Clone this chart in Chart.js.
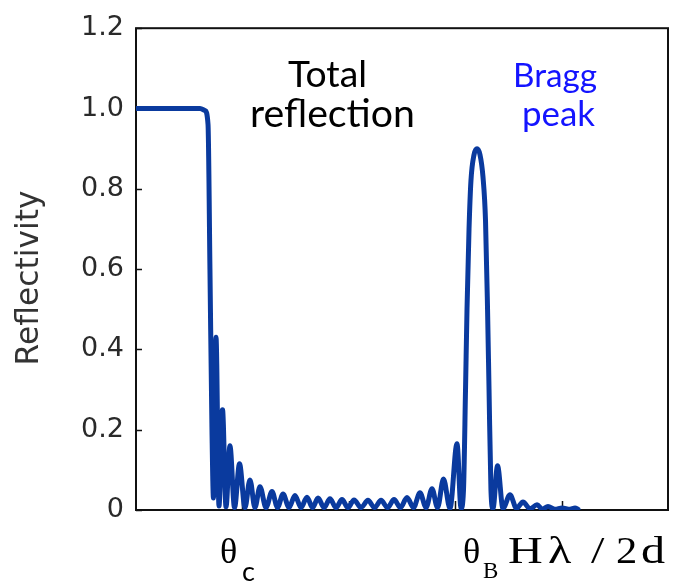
<!DOCTYPE html>
<html><head><meta charset="utf-8">
<script src="https://cdn.jsdelivr.net/npm/chart.js@4"></script>
<style>html,body{margin:0;padding:0;background:#fff}#wrap{width:679px;height:584px;position:relative}</style>
</head><body><div id="wrap"><canvas id="c"></canvas></div>
<script>
// Glancing angle (arbitrary units, tick every 1.0) and reflectivity
const angle = [
  0, 0.414, 0.602, 0.648, 0.677, 0.695, 0.714, 0.728, 0.752, 0.780, 0.813, 0.846, 0.883, 0.926, 0.973,
  1.024, 1.071, 1.118, 1.165, 1.222, 1.278, 1.330, 1.382, 1.438, 1.494, 1.551, 1.607, 1.659, 1.711,
  1.767, 1.823, 1.880, 1.936, 1.992, 2.049, 2.115, 2.180, 2.242, 2.303, 2.364, 2.425, 2.486, 2.547,
  2.608, 2.669, 2.726, 2.782, 2.834, 2.890, 2.951, 3.017, 3.055, 3.078, 3.097, 3.111, 3.130, 3.148,
  3.177, 3.205, 3.233, 3.261, 3.285, 3.304, 3.318, 3.336, 3.355, 3.398, 3.449, 3.515, 3.576, 3.637,
  3.703, 3.769, 3.820, 3.872, 3.938, 4.004, 4.079, 4.126, 4.154
];
const reflectivity = [
  1.0, 1.0, 1.0, 0.995, 0.96, 0.6, 0.2, 0.03, 0.43, 0.01, 0.25, 0.008, 0.16, 0.006, 0.115,
  0.006, 0.075, 0.006, 0.058, 0.006, 0.046, 0.006, 0.04, 0.006, 0.036, 0.006, 0.032, 0.006, 0.03,
  0.006, 0.028, 0.006, 0.026, 0.006, 0.025, 0.006, 0.024, 0.006, 0.024, 0.006, 0.026, 0.006, 0.031,
  0.006, 0.043, 0.006, 0.053, 0.006, 0.077, 0.004, 0.165, 0.004, 0.05, 0.3, 0.5, 0.7, 0.82,
  0.885, 0.9, 0.885, 0.83, 0.72, 0.5, 0.3, 0.05, 0.004, 0.11, 0.004, 0.038, 0.004, 0.02,
  0.003, 0.013, 0.002, 0.009, 0.002, 0.005, 0.002, 0.005, 0.002
];
const yTicks = [0, 0.2, 0.4, 0.6, 0.8, 1.0, 1.2];
const xTicks = [0, 1, 2, 3, 4, 5];
const yTitle = 'Reflectivity';
const noteTotal = ['Total', 'reflection'];
const noteBragg = ['Bragg', 'peak'];

const points = angle.map((a, i) => ({x: a, y: reflectivity[i]}));

function fitText(ctx, text, family, weight, target, x, y, color, align) {
  ctx.font = weight + ' 100px "' + family + '"';
  const w = ctx.measureText(text).width;
  const size = 100 * target / w;
  ctx.font = weight + ' ' + size.toFixed(2) + 'px "' + family + '"';
  ctx.fillStyle = color;
  ctx.textAlign = align || 'left';
  ctx.fillText(text, x, y);
}

function wideGlyph(ctx, text, x, y, sx) {
  ctx.save();
  ctx.translate(x, y);
  ctx.scale(sx, 1);
  ctx.fillText(text, 0, 0);
  ctx.restore();
}

const decor = {
  id: 'decor',
  beforeDatasetsDraw(chart) {
    const {ctx, chartArea: ca, scales: {x, y}} = chart;
    ctx.save();
    ctx.strokeStyle = '#111';
    ctx.lineWidth = 2;
    ctx.strokeRect(ca.left, ca.top, ca.right - ca.left, ca.bottom - ca.top);
    ctx.lineWidth = 1.5;
    ctx.beginPath();
    yTicks.forEach(v => {
      const py = Math.round(y.getPixelForValue(v)) + 0.5;
      ctx.moveTo(ca.left, py); ctx.lineTo(ca.left + 6, py);
    });
    xTicks.slice(1, -1).forEach(v => {
      const px = Math.round(x.getPixelForValue(v)) + 0.5;
      ctx.moveTo(px, ca.bottom); ctx.lineTo(px, ca.bottom - 9);
    });
    ctx.stroke();
    ctx.restore();
  },
  afterDraw(chart) {
    const {ctx} = chart;
    ctx.save();
    ctx.textBaseline = 'alphabetic';
    fitText(ctx, noteTotal[0], 'Lato', 'normal', 79, 288, 87, '#000');
    fitText(ctx, noteTotal[1], 'Lato', 'normal', 165, 250, 127, '#000');
    fitText(ctx, noteBragg[0], 'Lato', 'normal', 84, 513, 87, '#1414ff');
    fitText(ctx, noteBragg[1], 'Lato', 'normal', 73, 522, 126, '#1414ff');
    // y title
    ctx.save();
    ctx.translate(38, 278);
    ctx.rotate(-Math.PI / 2);
    fitText(ctx, yTitle, 'DejaVu Sans', 'normal', 175, 0, 0, '#333', 'center');
    ctx.restore();
    // x annotations
    ctx.fillStyle = '#000';
    ctx.textAlign = 'left';
    ctx.font = '36px "Liberation Serif"';
    ctx.fillText('θ', 220, 563);
    ctx.font = '27px "Lato"';
    ctx.fillText('c', 242, 581);
    ctx.font = '36px "Liberation Serif"';
    ctx.fillText('θ', 463, 563);
    ctx.font = '23px "Liberation Serif"';
    ctx.fillText('B', 483, 578);
    ctx.font = '37px "Liberation Serif"';
    wideGlyph(ctx, 'H', 508, 563, 1.3);
    wideGlyph(ctx, 'λ', 548, 563, 1.3);
    wideGlyph(ctx, '/', 591, 563, 1.3);
    wideGlyph(ctx, '2', 616, 563, 1.15);
    wideGlyph(ctx, 'd', 641, 563, 1.3);
    ctx.restore();
  }
};

new Chart(document.getElementById('c'), {
  type: 'line',
  data: {
    datasets: [{
      data: points,
      borderColor: '#0a3a9e',
      borderWidth: 5,
      pointRadius: 0,
      cubicInterpolationMode: 'monotone',
      fill: false,
      borderJoinStyle: 'round',
      borderCapStyle: 'round'
    }]
  },
  options: {
    responsive: true,
    maintainAspectRatio: false,
    animation: false,
    events: [],
    layout: {padding: {top: 26, right: 11, bottom: 74, left: 0}},
    plugins: {legend: {display: false}, tooltip: {enabled: false}},
    scales: {
      x: {
        type: 'linear', min: 0, max: 5,
        grid: {display: false, drawTicks: false},
        border: {display: false},
        ticks: {display: false},
        afterBuildTicks: s => { s.ticks = xTicks.map(v => ({value: v})); },
        afterFit: s => { s.height = 0; }
      },
      y: {
        min: 0, max: 1.2,
        grid: {display: false, drawTicks: false},
        border: {display: false},
        afterBuildTicks: s => { s.ticks = yTicks.map(v => ({value: v})); },
        ticks: {
          font: {family: 'DejaVu Sans', size: 27},
          color: '#2a2a2a',
          padding: 12,
          callback: v => v === 0 ? '0' : v.toFixed(1)
        },
        afterFit: s => { s.width = 136; }
      }
    }
  },
  plugins: [decor]
});
</script>
</body></html>
